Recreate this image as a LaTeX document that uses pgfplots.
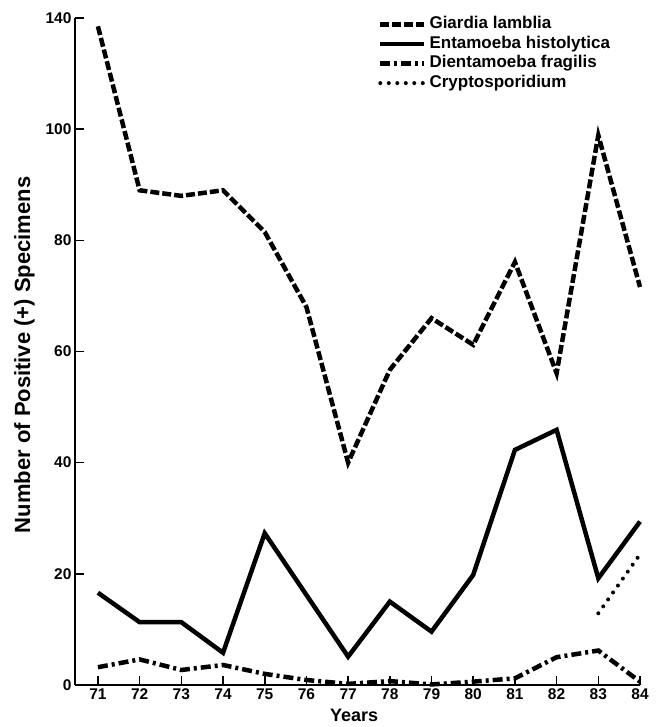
\documentclass[border=0pt]{standalone}
\usepackage{fontspec}
\setmainfont{Liberation Sans}
\usepackage{pgfplots}
\pgfplotsset{compat=1.18}
\begin{document}
\begin{tikzpicture}
\begin{axis}[
  scale only axis,
  width=565pt, height=667pt,
  xmin=70.45, xmax=84,
  ymin=0, ymax=140,
  y coord trafo/.code={\pgfmathparse{(#1>100)*(100+(#1-100)/2)+(#1<=100)*(#1)}},
  y coord inv trafo/.code={\pgfmathparse{(#1>100)*(100+2*(#1-100))+(#1<=100)*(#1)}},
  axis x line*=bottom, axis y line*=left,
  axis line style={-, line width=1.6pt},
  every outer x axis line/.append style={-},
  every outer y axis line/.append style={-},
  xtick={71,72,73,74,75,76,77,78,79,80,81,82,83,84},
  ytick={0,20,40,60,80,100,140},
  yticklabels={0,20,40,60,80,100,140},
  tick align=inside,
  major tick length=9pt,
  tick style={line width=1.6pt, black},
  /pgf/number format/assume math mode=true,
  /pgf/number format/1000 sep={},
  tick label style={font=\bfseries\fontsize{15.5}{18}\selectfont},
  ylabel={Number of Positive (+) Specimens},
  ylabel style={font=\bfseries\fontsize{22}{26}\selectfont, at={(axis description cs:-0.0894,0.495)}, anchor=center},
  xlabel={Years},
  xlabel style={font=\bfseries\fontsize{18}{22}\selectfont, inner sep=1pt, at={(axis description cs:0.494,0)}, anchor=south, yshift=-38pt},
  clip=false,
  legend style={draw=none, fill=none, inner sep=0pt,
    at={(axis description cs:0.536,1.005)}, anchor=north west,
    font=\bfseries\fontsize{17}{19}\selectfont,
    nodes={inner ysep=1pt, inner xsep=3pt, text height=13pt, text depth=4.5pt, anchor=west},
    row sep=0pt},
  legend cell align=left,
  legend image code/.code={\draw[#1] (0pt,0pt) -- (44pt,0pt);},
]
\addplot[black, line width=4.5pt, dash pattern=on 9pt off 3pt] coordinates {
(71,137)(72,89)(73,88)(74,89)(75,81.5)(76,68)(77,40)(78,56.7)(79,66)(80,61.2)(81,76.1)(82,56.1)(83,98.9)(84,71.6)};
\addlegendentry{Giardia lamblia}
\addplot[black, line width=4.5pt] coordinates {
(71,16.6)(72,11.3)(73,11.3)(74,5.8)(75,27.3)(76,16.2)(77,5.1)(78,15)(79,9.6)(80,19.8)(81,42.3)(82,45.9)(83,19.2)(84,29.4)};
\addlegendentry{Entamoeba histolytica}
\addplot[black, line width=4.5pt, dash pattern=on 10pt off 4pt on 3pt off 4pt] coordinates {
(71,3.2)(72,4.6)(73,2.7)(74,3.6)(75,2.0)(76,0.9)(77,0.2)(78,0.7)(79,0.1)(80,0.6)(81,1.2)(82,5.0)(83,6.2)(84,0.6)};
\addlegendentry{Dientamoeba fragilis}
\addplot[black, line width=4pt, line cap=round, dash pattern=on 0pt off 8.5pt] coordinates {
(83,12.9)(84,23.5)};
\addlegendentry{Cryptosporidium}
\end{axis}
\pgfresetboundingbox
\useasboundingbox (-75pt,-42pt) rectangle (588pt,685pt);
\end{tikzpicture}
\end{document}
